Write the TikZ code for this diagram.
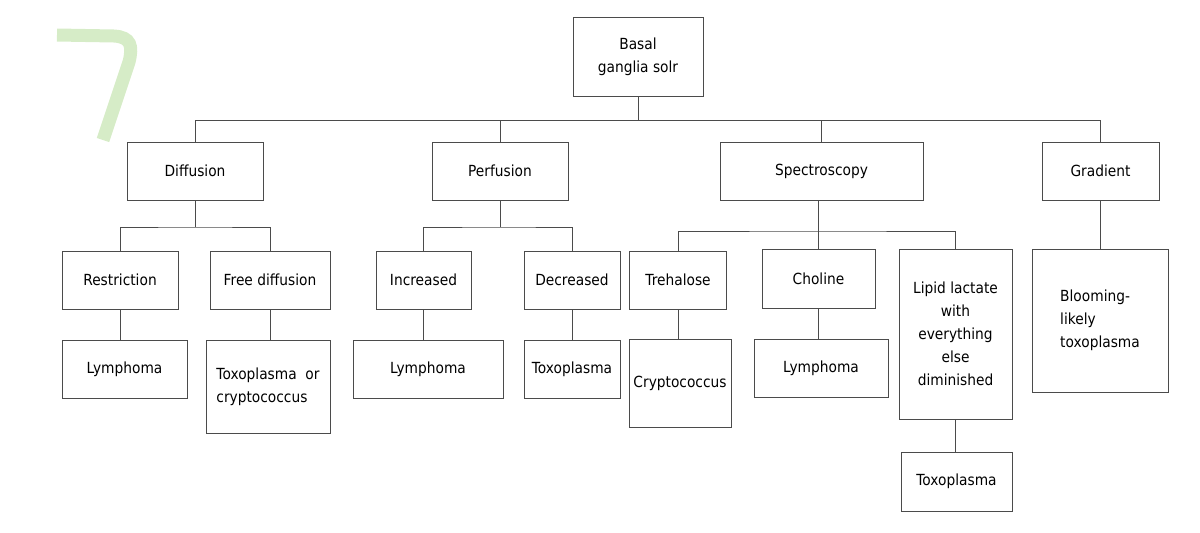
\documentclass[tikz,border=0pt]{standalone}
\usepackage{fontspec}
\setmainfont{DejaVu Sans}[FakeStretch=0.9]
\definecolor{edgegray}{RGB}{75,75,75}
\definecolor{markgreen}{RGB}{214,236,199}
\begin{document}
\begin{tikzpicture}[x=1pt,y=-1pt,
    box/.style={draw=edgegray,line width=1pt,rectangle,inner sep=2pt,align=center,
        font=\fontsize{15.3}{23}\selectfont},
    link/.style={draw=edgegray,line width=1pt}]
    \useasboundingbox (0,0) rectangle (1200,533);
    % green mark
    \draw[markgreen,line width=13pt](57,35)--(114,36)..controls(131,37)and(133,46)..(129,62)--(103,140);
    % top
    \node[box,minimum width=130,minimum height=79](root)at(638,56.5){Basal\\ganglia solr};
    \node[box,minimum width=136,minimum height=58](diff)at(195,171){Diffusion};
    \node[box,minimum width=136,minimum height=58](perf)at(500,171){Perfusion};
    \node[box,minimum width=203,minimum height=58](spec)at(821.5,171){Spectroscopy};
    \node[box,minimum width=117,minimum height=58](grad)at(1100.5,171){Gradient};
    % second row
    \node[box,minimum width=116,minimum height=58](restr)at(120,280){Restriction};
    \node[box,minimum width=120,minimum height=58](free)at(270,280){Free diffusion};
    \node[box,minimum width=95,minimum height=58](incr)at(423.5,280){Increased};
    \node[box,minimum width=96,minimum height=58](decr)at(572,280){Decreased};
    \node[box,minimum width=97,minimum height=58](treh)at(678,280){Trehalose};
    \node[box,minimum width=113,minimum height=59](chol)at(818.5,278.5){Choline};
    \node[box,minimum width=113,minimum height=170](lipid)at(955.5,334){Lipid lactate\\with\\everything\\else\\diminished};
    \node[box,minimum width=136,minimum height=143,align=left](bloom)at(1100,320.5){Blooming-\\likely\\toxoplasma};
    % third row
    \node[box,minimum width=125,minimum height=58](lym1)at(124.5,369){Lymphoma};
    \node[box,minimum width=124,minimum height=93,align=left](toxcr)at(268,386.5){Toxoplasma~~or\\cryptococcus};
    \node[box,minimum width=150,minimum height=58](lym2)at(428,369){Lymphoma};
    \node[box,minimum width=96,minimum height=58](tox1)at(572,369){Toxoplasma};
    \node[box,minimum width=102,minimum height=88](crypt)at(680,383){Cryptococcus};
    \node[box,minimum width=134,minimum height=58](lym3)at(821,368){Lymphoma};
    \node[box,minimum width=111,minimum height=59](tox2)at(956.5,481.5){Toxoplasma};
    % bars
    \coordinate(b0)at(638,120);
    \coordinate(b1)at(195,227);
    \coordinate(b2)at(500,227);
    \coordinate(b3)at(819,231);
    \draw[link](root.south)--(b0);
    \draw[link](diff.north)|-(b0);
    \draw[link](grad.north)|-(b0);
    \draw[link](perf.north)--(perf.north|-b0);
    \draw[link](spec.north)--(spec.north|-b0);
    \draw[link](diff.south)--(b1);
    \draw[link](restr.north)|-(b1)-|(free.north);
    \draw[link](perf.south)--(b2);
    \draw[link](incr.north)|-(b2)-|(decr.north);
    \draw[link](spec.south-|chol.north)--(chol.north);
    \draw[link](treh.north)|-(b3)-|(lipid.north);
    \draw[link](grad.south)--(grad.south|-bloom.north);
    % down links
    \foreach \a/\b in {restr/lym1, free/toxcr, incr/lym2, decr/tox1, treh/crypt, chol/lym3, lipid/tox2}
    {
        \draw[link](\a.south)--(\a.south|-\b.north);
    }
\end{tikzpicture}
\end{document}
